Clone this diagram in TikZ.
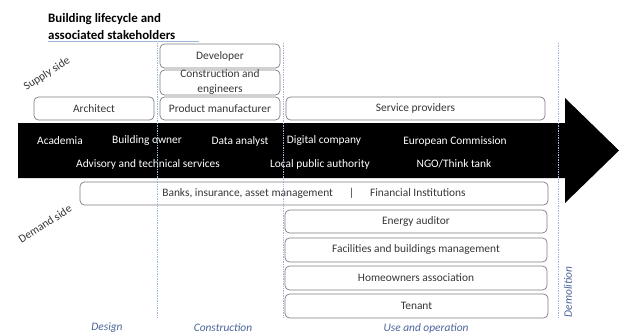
\documentclass[tikz,border=0pt]{standalone}
\usepackage{fontspec}
\setmainfont{Carlito}
\begin{document}
\definecolor{boxline}{HTML}{7E7E7E}
\definecolor{boxtext}{HTML}{363636}
\definecolor{phase}{HTML}{4A6499}
\definecolor{divider}{HTML}{9FB6D6}
\begin{tikzpicture}[x=1pt,y=-1pt,
  stake/.style={draw=boxline,line width=0.7pt,rounded corners=4.5pt,
    text=boxtext,inner sep=0pt,font=\fontsize{11.4}{13}\selectfont},
  band/.style={text=white,font=\fontsize{11.4}{13}\selectfont,inner sep=0pt},
  phaselabel/.style={text=phase,font=\fontsize{11.4}{13}\selectfont\itshape,inner sep=0pt},
  sidelabel/.style={text=boxtext,font=\fontsize{11.4}{13}\selectfont,rotate=33,inner sep=0pt},
  stagediv/.style={draw=divider,densely dotted,line width=0.7pt}]
\useasboundingbox (0,0) rectangle (622,335);

% heading
\node[anchor=west,align=left,inner sep=0pt,font=\fontsize{12.9}{17}\selectfont\bfseries]
  (title) at (48,27) {Building lifecycle and\\associated stakeholders};
\coordinate (ulA) at (48,41);
\coordinate (ulB) at (199,41);
\draw[divider,line width=0.6pt] (ulA) -- (ulB);

% lifecycle arrow
\path[fill=black] (18,123) -- (565,123) -- (565,98) -- (619,150.5)
  -- (565,203) -- (565,178) -- (18,178) -- cycle;
\node[band] (acad) at (60,141) {Academia};
\node[band] (owner) at (147,141) {Building owner};
\node[band] (data) at (240,141) {Data analyst};
\node[band] (digital) at (324,141) {Digital company};
\node[band] (ec) at (455,141) {European Commission};
\node[band] (advis) at (148,164) {Advisory and technical services};
\node[band] (local) at (320,164) {Local public authority};
\node[band] (ngo) at (454,164) {NGO/Think tank};

% supply side
\node[stake,minimum width=120pt,minimum height=24pt] (dev) at (220,56) {Developer};
\node[stake,minimum width=120pt,minimum height=25pt] (cons) at (220,82.5) {};
\node[text=boxtext,align=center,inner sep=0pt,font=\fontsize{11.4}{15}\selectfont]
  (constext) at (220,82.5) {Construction and\\engineers};
\node[stake,minimum width=120pt,minimum height=23pt] (arch) at (94,108.5) {Architect};
\node[stake,minimum width=120pt,minimum height=23pt] (prod) at (220,108.5) {Product manufacturer};
\node[stake,minimum width=259pt,minimum height=23pt] (serv) at (415.5,108.5) {Service providers};

% demand side
\node[stake,minimum width=468pt,minimum height=23pt] (fin) at (314,193.5)
  {Banks, insurance, asset management\hspace{1.4em}|\hspace{1.4em}Financial Institutions};
\node[stake,minimum width=262pt,minimum height=23pt] (audit) at (416,221.5) {Energy auditor};
\node[stake,minimum width=262pt,minimum height=24pt] (fac) at (416,250) {Facilities and buildings management};
\node[stake,minimum width=262pt,minimum height=24pt] (home) at (416,278) {Homeowners association};
\node[stake,minimum width=263pt,minimum height=24pt] (ten) at (416.5,306) {Tenant};

% side labels
\node[sidelabel] (supply) at (47,74) {Supply side};
\node[sidelabel] (demand) at (45,224) {Demand side};

% stage dividers
\coordinate (d1t) at (157,43); \coordinate (d1b) at (157,318);
\coordinate (d2t) at (283,43); \coordinate (d2b) at (283,318);
\coordinate (d3t) at (558,43); \coordinate (d3b) at (558,318);
\draw[stagediv] (d1t) -- (d1b);
\draw[stagediv] (d2t) -- (d2b);
\draw[stagediv] (d3t) -- (d3b);

% stage names
\node[phaselabel] (design) at (107,328) {Design};
\node[phaselabel] (constr) at (223,328) {Construction};
\node[phaselabel] (use) at (426,328) {Use and operation};
\node[phaselabel,rotate=90] (demol) at (568,292) {Demolition};
\end{tikzpicture}
\end{document}
